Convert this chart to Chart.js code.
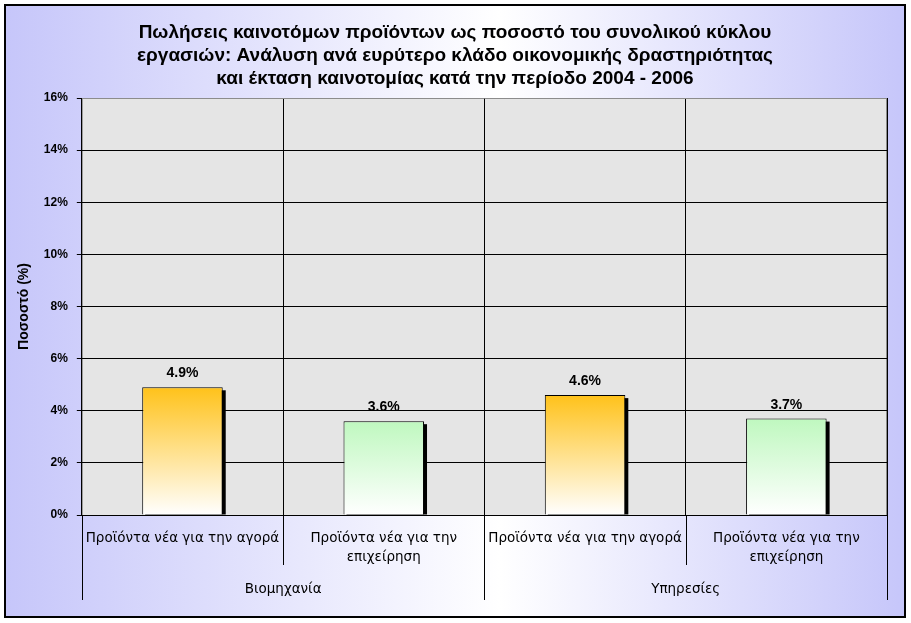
<!DOCTYPE html>
<html>
<head>
<meta charset="utf-8">
<script src="https://cdn.jsdelivr.net/npm/chart.js@4.4.1/dist/chart.umd.min.js"></script>
<style>
html, body { margin: 0; padding: 0; background: #fff; }
#wrap { width: 911px; height: 623px; position: relative; }
</style>
</head>
<body>
<div id="wrap"><canvas id="myChart"></canvas></div>
<script>
var titleLines = [
  "Πωλήσεις καινοτόμων προϊόντων ως ποσοστό του συνολικού κύκλου",
  "εργασιών: Ανάλυση ανά ευρύτερο κλάδο οικονομικής δραστηριότητας",
  "και έκταση καινοτομίας κατά την περίοδο 2004 - 2006"
];
var xValues = [
  ["Προϊόντα νέα για την αγορά"],
  ["Προϊόντα νέα για την", "επιχείρηση"],
  ["Προϊόντα νέα για την αγορά"],
  ["Προϊόντα νέα για την", "επιχείρηση"]
];
var groupValues = ["Βιομηχανία", "Υπηρεσίες"];
var shareData = [4.9, 3.6, 4.6, 3.7];
var yTitle = "Ποσοστό (%)";

var FONT = "'Liberation Sans', Arial, sans-serif";
var LABEL_FONT = "'DejaVu Sans', Tahoma, sans-serif";
Chart.defaults.font.family = FONT;
Chart.defaults.color = "#000";

// background, plot area and title
var backdrop = {
  id: "backdrop",
  beforeDraw: function(chart) {
    var ctx = chart.ctx, a = chart.chartArea;
    ctx.save();
    ctx.fillStyle = "#fff";
    ctx.fillRect(0, 0, chart.width, chart.height);
    var g = ctx.createLinearGradient(5, 0, 905, 0);
    g.addColorStop(0, "#c6c6fa");
    g.addColorStop(0.55, "#ffffff");
    g.addColorStop(1, "#c6c6fa");
    ctx.fillStyle = g;
    ctx.fillRect(5, 5, 900, 612);
    ctx.strokeStyle = "#000";
    ctx.lineWidth = 2;
    ctx.strokeRect(5, 5, 900, 612);

    ctx.fillStyle = "#e5e5e5";
    ctx.fillRect(a.left, a.top, a.right - a.left, a.bottom - a.top);
    ctx.strokeStyle = "#8c8c8c";
    ctx.lineWidth = 1;
    ctx.strokeRect(a.left + 0.5, a.top + 0.5, a.right - a.left - 1, a.bottom - a.top);

    ctx.fillStyle = "#000";
    ctx.font = "bold 19px " + FONT;
    ctx.textAlign = "center";
    ctx.textBaseline = "middle";
    for (var i = 0; i < titleLines.length; i++) {
      ctx.fillText(titleLines[i], 455, 33 + i * 23);
    }
    ctx.restore();
  }
};

// bar shadows and value labels
var barDecor = {
  id: "barDecor",
  beforeDatasetsDraw: function(chart) {
    var ctx = chart.ctx;
    ctx.save();
    ctx.fillStyle = "#000";
    chart.getDatasetMeta(0).data.forEach(function(bar) {
      var left = bar.x - bar.width / 2;
      ctx.fillRect(left + 3, bar.y + 3, bar.width, bar.base - bar.y - 3);
    });
    ctx.restore();
  },
  afterDatasetsDraw: function(chart) {
    var ctx = chart.ctx;
    ctx.save();
    ctx.fillStyle = "#000";
    ctx.font = "bold 14px " + FONT;
    ctx.textAlign = "center";
    ctx.textBaseline = "alphabetic";
    chart.getDatasetMeta(0).data.forEach(function(bar, i) {
      ctx.fillText(shareData[i].toFixed(1) + "%", bar.x, bar.y - 10);
    });
    ctx.restore();
  }
};

// separators of the two-level category axis
var axisLines = {
  id: "axisLines",
  afterDraw: function(chart) {
    var ctx = chart.ctx, a = chart.chartArea;
    var xs = chart.scales.x, x2 = chart.scales.x2;
    var half = (xs.getPixelForValue(1) - xs.getPixelForValue(0)) / 2;
    ctx.save();
    ctx.strokeStyle = "#000";
    ctx.lineWidth = 1;
    for (var i = 0; i <= xValues.length; i++) {
      var px = i < xValues.length ? xs.getPixelForValue(i) - half : xs.getPixelForValue(xValues.length - 1) + half;
      px = Math.round(px) + 0.5;
      var end = (i % 2 === 0) ? x2.bottom : xs.bottom;
      ctx.beginPath();
      ctx.moveTo(px, a.bottom);
      ctx.lineTo(px, end);
      ctx.stroke();
    }
    ctx.restore();
  }
};

new Chart("myChart", {
  type: "bar",
  data: {
    labels: xValues,
    datasets: [{
      data: shareData,
      borderColor: "#000",
      borderWidth: 1,
      barPercentage: 0.4,
      categoryPercentage: 1,
      backgroundColor: function(c) {
        var chart = c.chart, a = chart.chartArea;
        if (!a || c.dataIndex === undefined) return "#fff";
        var top = chart.scales.y.getPixelForValue(shareData[c.dataIndex]);
        var g = chart.ctx.createLinearGradient(0, top, 0, a.bottom);
        if (c.dataIndex % 2 === 0) {
          g.addColorStop(0, "#ffc21a");
          g.addColorStop(1, "#ffffff");
        } else {
          g.addColorStop(0, "#bff8bf");
          g.addColorStop(1, "#ffffff");
        }
        return g;
      }
    }]
  },
  options: {
    responsive: true,
    maintainAspectRatio: false,
    animation: false,
    layout: { padding: { top: 98, left: 12, right: 24, bottom: 23 } },
    plugins: {
      legend: { display: false },
      tooltip: { enabled: false },
      title: { display: false }
    },
    scales: {
      x: {
        offset: true,
        grid: {
          offset: true,
          drawTicks: false,
          color: function(c) { return (c.index === 0 || c.index === xValues.length) ? "rgba(0,0,0,0)" : "#000"; }
        },
        border: { display: true, color: "#000" },
        ticks: { font: { family: LABEL_FONT, size: 13.5, lineHeight: 1.42 }, padding: 14, maxRotation: 0, autoSkip: false },
        afterFit: function(scale) { scale.height = 50; }
      },
      x2: {
        type: "category",
        labels: groupValues,
        position: "bottom",
        offset: true,
        grid: { display: false, drawTicks: false },
        border: { display: false },
        ticks: { font: { family: LABEL_FONT, size: 13.5, lineHeight: 1.42 }, padding: 15, maxRotation: 0 },
        afterFit: function(scale) { scale.height = 35; }
      },
      y: {
        min: 0,
        max: 16,
        ticks: {
          stepSize: 2,
          padding: 9,
          font: { size: 12, weight: "bold" },
          callback: function(v) { return v + "%"; }
        },
        grid: {
          color: function(c) { return c.tick && c.tick.value === 16 ? "#8c8c8c" : "#000"; },
          tickColor: "#000",
          tickLength: 5
        },
        border: { display: true, color: "#000" },
        title: {
          display: true,
          text: yTitle,
          font: { size: 14, weight: "bold" },
          padding: { top: 4, bottom: 2 }
        }
      }
    }
  },
  plugins: [backdrop, barDecor, axisLines]
});
</script>
</body>
</html>
